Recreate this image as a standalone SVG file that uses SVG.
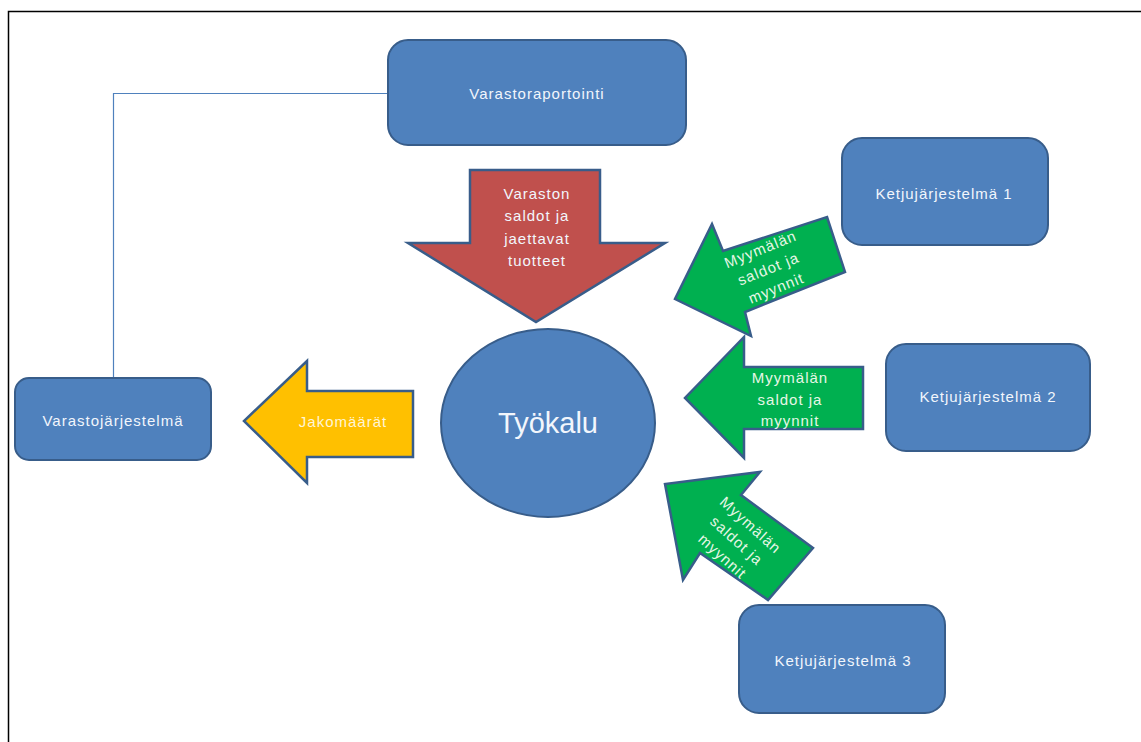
<svg xmlns="http://www.w3.org/2000/svg" width="1141" height="742" viewBox="0 0 1141 742">
<style>
.box{fill:#4F81BD;stroke:#385D8A;stroke-width:2}
.lbl{font-family:"Liberation Sans",Arial,sans-serif;font-size:15px;letter-spacing:1px;fill:#F2F6FC;text-anchor:middle;dominant-baseline:central}
.arr{stroke:#385D8A;stroke-width:2.5;stroke-linejoin:miter}
.al{font-family:"Liberation Sans",Arial,sans-serif;font-size:15px;letter-spacing:1px;text-anchor:middle;dominant-baseline:central}
</style>
<rect x="0" y="0" width="1141" height="742" fill="#FFFFFF"/>
<path d="M8.5,742 V11.5 H1141" fill="none" stroke="#000" stroke-width="1.5"/>
<g id="connectors">
<path d="M388,93.5 H113.5 V378" fill="none" stroke="#4F81BD" stroke-width="1.2"/>
</g>
<g id="varastoraportointi">
<rect class="box" x="388" y="40" width="298" height="105" rx="20"/>
<text class="lbl" x="537" y="93">Varastoraportointi</text>
</g>
<g id="ketju1">
<rect class="box" x="842" y="138" width="206" height="107" rx="20"/>
<text class="lbl" x="944" y="193">Ketjujärjestelmä 1</text>
</g>
<g id="ketju2">
<rect class="box" x="886" y="344" width="204" height="107" rx="20"/>
<text class="lbl" x="988" y="396">Ketjujärjestelmä 2</text>
</g>
<g id="ketju3">
<rect class="box" x="739" y="605" width="206" height="108" rx="20"/>
<text class="lbl" x="843" y="660">Ketjujärjestelmä 3</text>
</g>
<g id="varastojarjestelma">
<rect class="box" x="15" y="378" width="196" height="82" rx="14"/>
<text class="lbl" x="113" y="420">Varastojärjestelmä</text>
</g>
<g id="tyokalu">
<ellipse cx="548" cy="423" rx="107" ry="94" fill="#4F81BD" stroke="#385D8A" stroke-width="2"/>
<text x="548" y="423" font-family="'Liberation Sans',Arial,sans-serif" font-size="29" fill="#F2F6FC" text-anchor="middle" dominant-baseline="central">Työkalu</text>
</g>
<g id="arrow-varasto">
<polygon class="arr" fill="#C0504D" points="470,170 600,170 600,243 665,243 536,322 408,243 470,243"/>
<text class="al" fill="#F2F6FC"><tspan x="537" y="193">Varaston</tspan><tspan x="537" y="215">saldot ja</tspan><tspan x="537" y="238">jaettavat</tspan><tspan x="537" y="260">tuotteet</tspan></text>
</g>
<g id="arrow-jako">
<polygon class="arr" fill="#FFC000" points="413,391 413,457 307,457 307,483 244,421 307,361 307,391"/>
<text class="al" fill="#FFF5D6" x="343" y="421">Jakomäärät</text>
</g>
<g id="arrow-m1">
<polygon class="arr" fill="#00B050" points="827,217 845,272 745,312 751,336 675,299 712,224 723,251"/>
<text class="al" fill="#E6F7E6" transform="translate(768,268) rotate(-22)"><tspan x="0" y="-21">Myymälän</tspan><tspan x="0" y="0">saldot ja</tspan><tspan x="0" y="21">myynnit</tspan></text>
</g>
<g id="arrow-m2">
<polygon class="arr" fill="#00B050" points="863,367 863,429 744,429 744,458 685,398 744,337 744,367"/>
<text class="al" fill="#E6F7E6"><tspan x="790" y="377">Myymälän</tspan><tspan x="790" y="399">saldot ja</tspan><tspan x="790" y="420">myynnit</tspan></text>
</g>
<g id="arrow-m3">
<polygon class="arr" fill="#00B050" points="813,548 768,600 700,553 683,580 665,484 760,472 741,495"/>
<text class="al" fill="#E6F7E6" transform="translate(737,540) rotate(42)"><tspan x="0" y="-21">Myymälän</tspan><tspan x="0" y="0">saldot ja</tspan><tspan x="0" y="21">myynnit</tspan></text>
</g>
</svg>
